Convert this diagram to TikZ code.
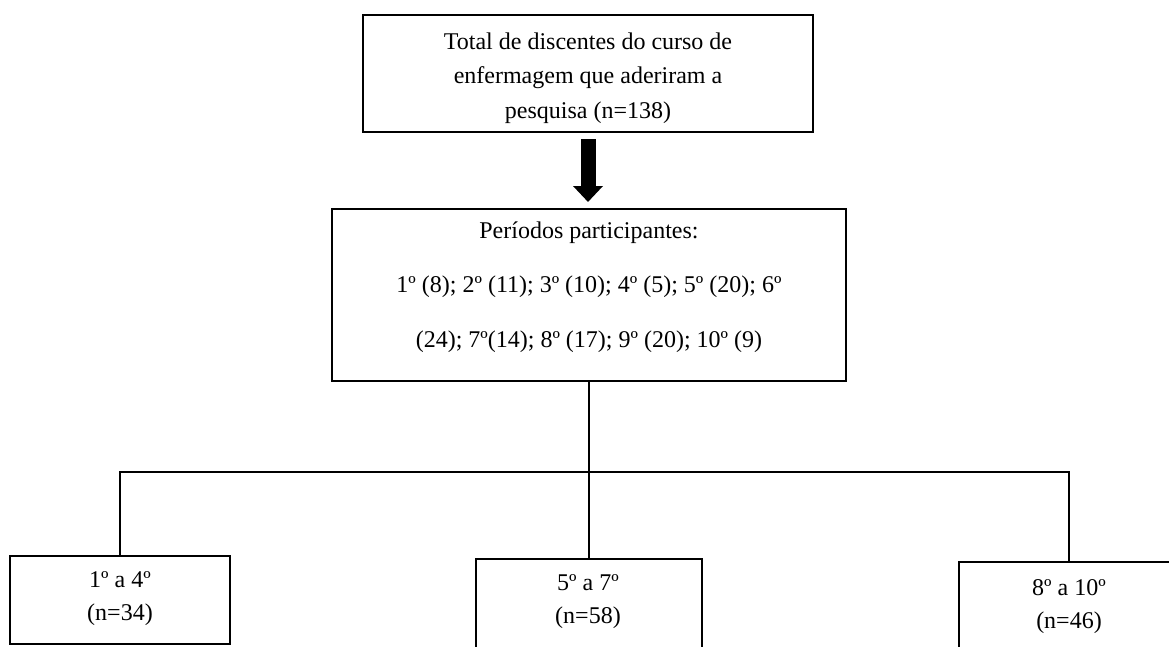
\documentclass[tikz,border=0pt]{standalone}
\usepackage{fontspec}
\setmainfont{Liberation Serif}
\usetikzlibrary{arrows.meta}
\begin{document}
\begin{tikzpicture}[x=1pt,y=-1pt,
  box/.style={draw, line width=1.6pt, inner sep=0pt, outer sep=0pt},
  txt/.style={align=center, inner sep=0pt},
  tree/.style={line width=1.2pt},
  bigarrow/.style={line width=15pt, -{Triangle[width=29pt,length=16pt]}}]
\useasboundingbox (0,0) rectangle (1169,646);
\clip (0,0) rectangle (1169,646);

% top box
\node[box, minimum width=450pt, minimum height=117pt] (top) at (588,73.5) {};
\node[txt, font=\fontsize{24}{34.5}\selectfont] (toptxt) at (588,78) {Total de discentes do curso de\\enfermagem que aderiram a\\pesquisa (n=138)};

% middle box
\node[box, minimum width=514pt, minimum height=172pt] (mid) at (589,295) {};
\node[txt, font=\fontsize{24}{54.5}\selectfont] (midtxt) at (589,287) {Períodos participantes:\\1º (8); 2º (11); 3º (10); 4º (5); 5º (20); 6º\\(24); 7º(14); 8º (17); 9º (20); 10º (9)};

% arrow
\draw[bigarrow, shorten <=7pt, shorten >=7pt] (top.south) -- (top.south |- mid.north);

% bottom boxes
\node[box, minimum width=220pt, minimum height=88pt] (bl) at (120,600) {};
\node[txt, font=\fontsize{24}{33}\selectfont] (bltxt) at (120,599) {1º a 4º\\(n=34)};

\node[box, minimum width=226pt, minimum height=90pt] (bm) at (589,604) {};
\node[txt, font=\fontsize{24}{33}\selectfont] (bmtxt) at (588,602) {5º a 7º\\(n=58)};

\node[box, minimum width=220pt, minimum height=90pt] (br) at (1069,607) {};
\node[txt, font=\fontsize{24}{33}\selectfont] (brtxt) at (1069,606.5) {8º a 10º\\(n=46)};

% tree connectors
\coordinate (barlevel) at (0,472);
\coordinate (bar) at (mid.south |- barlevel);
\draw[tree] (mid.south) -- (bar);
\draw[tree] (bl.north) -- (bl.north |- bar) -- (br.north |- bar) -- (br.north);
\draw[tree] (bar) -- (bm.north);
\end{tikzpicture}
\end{document}
